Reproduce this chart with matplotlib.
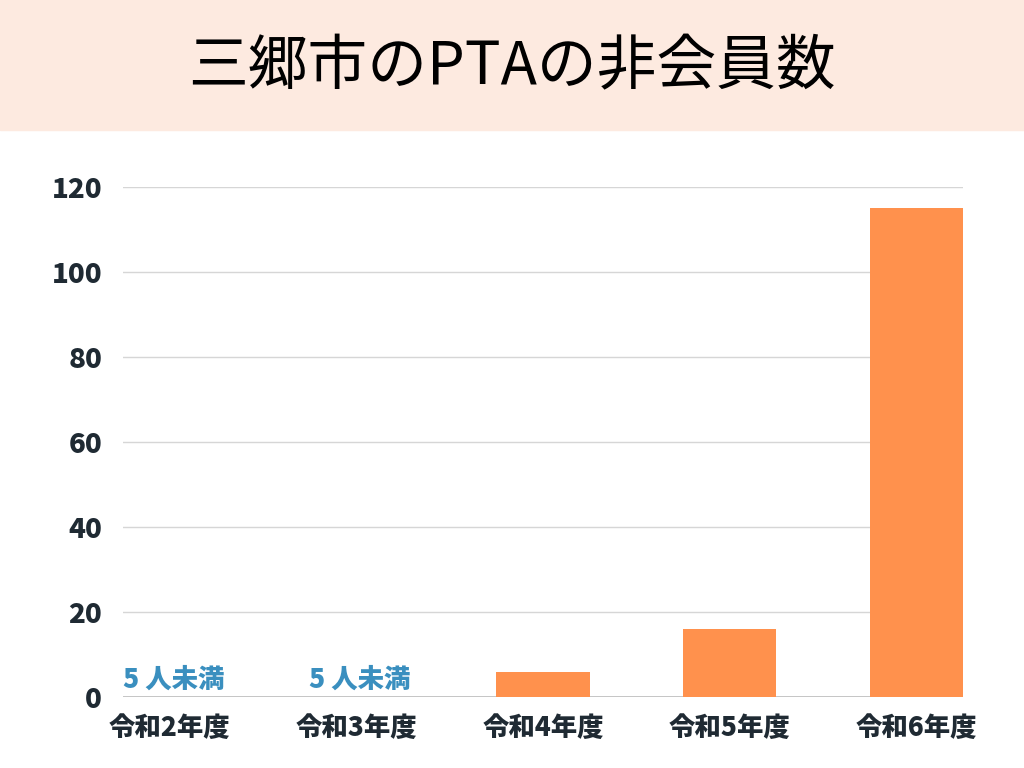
import matplotlib
matplotlib.use("Agg")
import matplotlib.pyplot as plt
from matplotlib.patches import Rectangle

plt.rcParams['font.family'] = ['Noto Sans CJK JP', 'DejaVu Sans']

# ---- data ----
categories = ["令和2年度", "令和3年度", "令和4年度", "令和5年度", "令和6年度"]
values     = [0, 0, 6, 16, 115]
notes      = ["5 人未満", "5 人未満", "", "", ""]   # shown instead of a bar
yticks     = [0, 20, 40, 60, 80, 100, 120]
title      = "三郷市のPTAの非会員数"

BAR_COLOR   = "#FF914D"
HEAD_COLOR  = "#FDEAE0"
TEXT_DARK   = "#1F2A33"
NOTE_COLOR  = "#3A8FBF"


def main():
    fig = plt.figure(figsize=(10.24, 7.68), dpi=100)
    fig.patch.set_facecolor("white")

    # header band with the title
    fig.patches.append(Rectangle((0, 1 - 130 / 768), 1, 130 / 768,
                                 transform=fig.transFigure, color=HEAD_COLOR,
                                 zorder=0))
    fig.text(0.5, 1 - 68 / 768, title, ha="center", va="center",
             fontsize=43, color="black")

    ax = fig.add_axes([123 / 1024, 1 - 697 / 768, 840 / 1024, 510 / 768])
    x = list(range(len(categories)))
    ax.bar(x, values, width=0.5, color=BAR_COLOR, zorder=3)
    for xi, note in zip(x, notes):
        if note:
            ax.text(xi + 0.02, 0.8, note, ha="center", va="bottom", fontsize=19,
                    fontweight="heavy", color=NOTE_COLOR, zorder=4)

    ax.set_xlim(-0.25, len(categories) - 0.75)
    ax.set_ylim(0, 120)
    ax.set_yticks(yticks)
    ax.set_xticks(x)
    ax.set_xticklabels(categories)
    ax.grid(axis="y", color="#D6D6D6", lw=1, zorder=0)
    ax.axhline(0, color="#BDBDBD", lw=1.2, zorder=2)
    for s in ax.spines.values():
        s.set_visible(False)
    ax.tick_params(length=0)
    ax.tick_params(axis="y", pad=15)
    ax.tick_params(axis="x", pad=12)
    for lab in ax.get_yticklabels():
        lab.set_fontsize(20)
        lab.set_fontweight("heavy")
        lab.set_color(TEXT_DARK)
    for lab in ax.get_xticklabels():
        lab.set_fontsize(19)
        lab.set_fontweight("heavy")
        lab.set_color(TEXT_DARK)

    fig.savefig("out.png", dpi=100)


if __name__ == "__main__":
    main()
